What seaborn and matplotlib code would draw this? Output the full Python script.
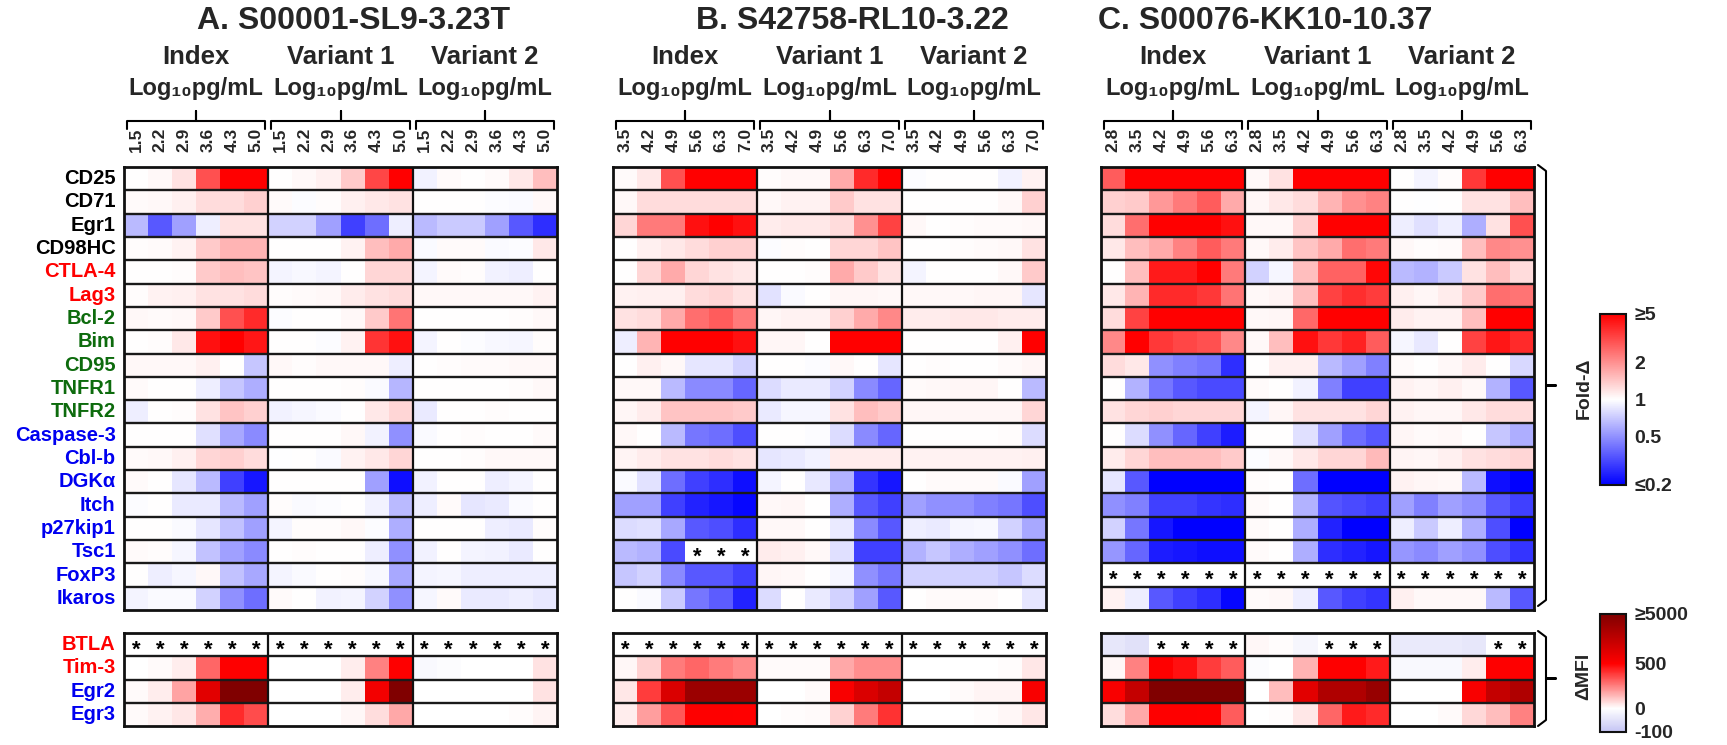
import numpy as np
import pandas as pd
import seaborn as sns
import matplotlib.pyplot as plt
from matplotlib.colors import LogNorm, FuncNorm, LinearSegmentedColormap
from matplotlib.lines import Line2D

nan = np.nan

# ---- data -------------------------------------------------------------
genes_fold = ["CD25", "CD71", "Egr1", "CD98HC", "CTLA-4", "Lag3", "Bcl-2", "Bim",
              "CD95", "TNFR1", "TNFR2", "Caspase-3", "Cbl-b", "DGK\u03b1", "Itch",
              "p27kip1", "Tsc1", "FoxP3", "Ikaros"]
genes_mfi = ["BTLA", "Tim-3", "Egr2", "Egr3"]
colors_fold = ["#000000"] * 4 + ["#ff0000"] * 2 + ["#0d6b0d"] * 5 + ["#0000f0"] * 8
colors_mfi = ["#ff0000", "#ff0000", "#0000f0", "#0000f0"]

groups = ["Index", "Variant 1", "Variant 2"]
titles = ["A. S00001-SL9-3.23T", "B. S42758-RL10-3.22", "C. S00076-KK10-10.37"]
conc_A = ["1.5", "2.2", "2.9", "3.6", "4.3", "5.0"]
conc_B = ["3.5", "4.2", "4.9", "5.6", "6.3", "7.0"]
conc_C = ["2.8", "3.5", "4.2", "4.9", "5.6", "6.3"]

# fold change, columns = Index x6 | Variant 1 x6 | Variant 2 x6 (nan = *)
fold_A = [
    [1.0, 1.05, 1.2, 3.0, 5, 5, 1.0, 1.05, 1.1, 1.4, 3.2, 5, 0.92, 1.03, 1.0, 1.03, 1.15, 1.5],
    [1.03, 1.05, 1.1, 1.25, 1.25, 1.35, 1.03, 0.98, 1.02, 1.1, 1.15, 1.2, 1.0, 1.0, 1.0, 0.98, 0.97, 1.05],
    [0.65, 0.35, 0.55, 0.9, 1.2, 1.2, 0.75, 0.75, 0.55, 0.3, 0.4, 0.9, 0.65, 0.72, 0.72, 0.55, 0.35, 0.27],
    [1.02, 1.03, 1.08, 1.4, 1.6, 1.6, 1.0, 1.0, 1.0, 1.08, 1.5, 1.7, 0.97, 1.03, 1.03, 0.97, 0.98, 1.15],
    [1.0, 1.0, 1.02, 1.4, 1.5, 1.45, 0.93, 0.96, 0.93, 1.0, 1.3, 1.3, 0.93, 1.03, 1.02, 0.92, 0.9, 1.0],
    [1.02, 1.08, 1.1, 1.2, 1.2, 1.25, 1.02, 1.03, 1.05, 1.12, 1.2, 1.25, 1.05, 1.05, 1.05, 1.05, 1.05, 1.08],
    [1.05, 1.03, 1.05, 1.4, 3.0, 3.8, 0.98, 1.0, 1.0, 1.05, 1.4, 2.4, 1.0, 1.0, 1.0, 1.0, 1.02, 1.05],
    [1.0, 1.02, 1.15, 4.5, 5, 4.3, 1.0, 1.0, 0.98, 1.08, 3.6, 4.5, 0.93, 1.0, 0.98, 0.96, 0.95, 1.02],
    [1.05, 1.05, 1.05, 1.1, 1.0, 0.7, 1.04, 1.02, 1.05, 1.05, 1.05, 0.9, 1.0, 1.02, 1.03, 1.03, 1.04, 1.05],
    [1.03, 1.0, 1.0, 0.9, 0.7, 0.6, 1.0, 1.0, 1.0, 1.02, 0.97, 0.63, 1.0, 1.0, 1.0, 1.0, 1.02, 1.04],
    [0.9, 1.0, 1.02, 1.2, 1.45, 1.35, 0.92, 0.95, 0.97, 1.0, 1.15, 1.3, 0.88, 1.0, 1.0, 1.02, 1.0, 1.0],
    [1.0, 1.0, 1.0, 0.82, 0.58, 0.48, 1.0, 1.0, 1.0, 1.04, 0.92, 0.5, 0.97, 1.0, 1.02, 1.0, 1.0, 1.03],
    [1.03, 1.05, 1.1, 1.3, 1.35, 1.25, 0.99, 1.0, 0.97, 1.08, 1.15, 1.3, 1.0, 1.0, 1.02, 1.05, 1.05, 1.05],
    [1.03, 1.0, 0.85, 0.65, 0.3, 0.23, 1.0, 1.0, 1.0, 1.0, 0.55, 0.22, 0.92, 1.0, 1.0, 0.9, 0.93, 1.0],
    [0.98, 1.0, 0.88, 0.88, 0.65, 0.55, 1.02, 0.97, 0.98, 1.0, 0.92, 0.65, 0.9, 1.03, 0.85, 0.88, 0.97, 1.0],
    [1.0, 1.0, 0.97, 0.85, 0.68, 0.55, 0.93, 1.02, 1.02, 1.04, 0.98, 0.6, 1.0, 1.0, 1.0, 0.9, 0.88, 1.02],
    [1.03, 1.02, 0.95, 0.68, 0.55, 0.48, 1.0, 1.02, 1.0, 1.0, 0.9, 0.5, 0.92, 1.0, 0.93, 0.92, 0.88, 1.0],
    [1.0, 0.9, 0.95, 1.04, 0.68, 0.58, 0.93, 0.97, 1.0, 1.02, 0.96, 0.58, 0.93, 0.95, 0.9, 0.9, 0.9, 0.9],
    [0.93, 0.97, 0.97, 0.75, 0.5, 0.4, 1.03, 1.0, 0.92, 0.93, 0.75, 0.5, 0.95, 1.03, 0.88, 0.88, 0.9, 0.87],
]
fold_B = [
    [1.03, 1.15, 3.0, 5, 5, 5, 1.02, 1.05, 1.05, 1.7, 3.8, 5, 0.98, 1.0, 1.0, 1.0, 0.92, 1.08],
    [1.05, 1.25, 1.25, 1.25, 1.25, 1.25, 1.05, 1.08, 1.08, 1.4, 1.2, 1.2, 1.0, 1.0, 1.0, 1.0, 1.04, 1.35],
    [1.3, 2.3, 2.3, 4.5, 5, 4.5, 1.12, 1.15, 1.15, 1.25, 2.0, 3.3, 1.04, 1.0, 1.02, 1.03, 1.03, 1.05],
    [1.0, 1.1, 1.15, 1.25, 1.35, 1.35, 0.98, 1.02, 1.0, 1.3, 1.3, 1.45, 1.0, 1.0, 1.02, 1.03, 1.05, 1.2],
    [1.0, 1.3, 1.7, 1.3, 1.2, 1.15, 1.0, 1.0, 1.02, 1.7, 1.4, 1.2, 0.93, 1.0, 1.0, 1.0, 1.04, 1.4],
    [1.08, 1.1, 1.1, 1.25, 1.3, 1.2, 0.83, 0.97, 1.0, 1.06, 1.06, 1.05, 1.05, 1.05, 1.05, 1.06, 1.06, 0.85],
    [1.2, 1.25, 1.7, 2.5, 2.8, 2.3, 1.06, 1.08, 1.08, 1.35, 1.7, 2.1, 1.12, 1.12, 1.15, 1.15, 1.12, 1.12],
    [0.9, 1.6, 5, 5, 5, 4.5, 1.06, 1.06, 1.0, 5, 5, 5, 1.0, 1.0, 1.0, 1.0, 1.1, 5],
    [1.0, 1.1, 1.05, 0.85, 0.85, 0.75, 1.0, 1.0, 0.98, 1.04, 1.0, 0.85, 1.0, 1.02, 1.0, 1.0, 1.03, 1.06],
    [1.04, 1.04, 0.65, 0.48, 0.48, 0.38, 0.8, 0.88, 0.88, 0.75, 0.48, 0.38, 1.03, 1.05, 1.06, 1.06, 1.0, 0.65],
    [1.06, 1.12, 1.45, 1.45, 1.45, 1.4, 0.88, 0.95, 0.95, 1.2, 1.5, 1.4, 1.06, 1.06, 1.06, 1.06, 1.06, 1.3],
    [1.04, 1.0, 0.65, 0.42, 0.4, 0.33, 1.0, 1.0, 0.98, 0.8, 0.48, 0.38, 1.0, 1.0, 1.0, 1.0, 1.02, 0.8],
    [1.07, 1.12, 1.2, 1.2, 1.25, 1.2, 0.85, 0.88, 0.92, 1.12, 1.12, 1.12, 1.08, 1.08, 1.08, 1.08, 1.08, 1.1],
    [0.97, 0.83, 0.4, 0.3, 0.27, 0.22, 0.93, 1.0, 0.87, 0.62, 0.28, 0.23, 1.0, 1.03, 1.03, 1.03, 0.97, 0.55],
    [0.55, 0.55, 0.3, 0.25, 0.23, 0.21, 1.05, 1.06, 1.0, 0.6, 0.35, 0.3, 0.55, 0.5, 0.5, 0.45, 0.42, 0.33],
    [0.8, 0.82, 0.58, 0.35, 0.33, 0.27, 1.04, 1.04, 1.0, 0.88, 0.48, 0.35, 0.9, 0.88, 0.95, 0.96, 0.75, 0.58],
    [0.65, 0.62, 0.32, nan, nan, nan, 1.12, 1.1, 1.05, 0.82, 0.3, 0.3, 0.62, 0.7, 0.6, 0.55, 0.5, 0.4],
    [0.7, 0.75, 0.48, 0.35, 0.35, 0.3, 1.06, 1.05, 1.0, 0.95, 0.5, 0.42, 0.75, 0.75, 0.75, 0.75, 0.7, 0.8],
    [1.0, 0.97, 0.72, 0.42, 0.36, 0.25, 0.8, 1.0, 0.88, 0.75, 0.55, 0.35, 1.0, 1.03, 1.03, 1.03, 1.0, 0.85],
]
fold_C = [
    [2.8, 5, 5, 5, 5, 5, 1.05, 1.2, 5, 5, 5, 5, 1.0, 0.93, 1.02, 3.5, 5, 5],
    [1.35, 1.4, 1.9, 2.3, 2.8, 1.7, 1.06, 1.15, 1.25, 1.6, 2.0, 2.2, 1.0, 0.99, 1.0, 1.2, 1.2, 1.5],
    [1.25, 2.5, 5, 5, 5, 4.5, 1.04, 1.04, 1.35, 5, 5, 5, 0.9, 0.82, 0.9, 0.6, 1.2, 3.0],
    [1.15, 1.5, 1.7, 2.2, 2.8, 2.3, 1.04, 1.12, 1.45, 1.7, 2.5, 2.3, 1.04, 1.02, 1.03, 1.5, 2.1, 2.0],
    [1.0, 1.5, 4.2, 4.2, 5, 2.3, 0.75, 0.95, 1.5, 2.7, 2.7, 4.8, 0.65, 0.62, 0.72, 1.2, 1.5, 1.25],
    [1.15, 1.6, 3.8, 3.8, 3.5, 2.4, 1.04, 1.07, 1.5, 3.3, 3.7, 3.4, 1.1, 1.06, 1.12, 1.4, 2.5, 2.4],
    [1.25, 3.3, 5, 5, 5, 5, 1.04, 1.06, 2.6, 5, 5, 5, 1.12, 1.08, 1.08, 1.5, 5, 5],
    [2.1, 5, 3.5, 3.2, 3.0, 2.1, 1.05, 1.5, 4.5, 3.5, 4.0, 2.8, 0.95, 0.87, 1.0, 3.3, 4.3, 3.8],
    [1.25, 1.15, 0.5, 0.45, 0.42, 0.27, 1.0, 1.1, 1.1, 0.65, 0.55, 0.45, 1.03, 1.0, 1.04, 1.12, 1.0, 0.78],
    [1.0, 0.62, 0.42, 0.35, 0.32, 0.32, 1.03, 1.0, 0.92, 0.45, 0.3, 0.3, 1.08, 1.06, 1.1, 1.04, 0.62, 0.35],
    [1.2, 1.3, 1.35, 1.3, 1.3, 1.3, 0.93, 1.06, 1.2, 1.2, 1.2, 1.3, 1.08, 1.06, 1.06, 1.15, 1.25, 1.25],
    [1.0, 0.8, 0.5, 0.38, 0.3, 0.24, 1.0, 1.0, 0.82, 0.55, 0.4, 0.35, 1.06, 1.03, 1.05, 1.0, 0.7, 0.6],
    [1.12, 1.3, 1.5, 1.5, 1.5, 1.4, 0.98, 1.04, 1.15, 1.3, 1.3, 1.55, 1.07, 1.06, 1.1, 1.2, 1.25, 1.3],
    [0.85, 0.35, 0.2, 0.2, 0.2, 0.2, 1.02, 1.0, 0.4, 0.2, 0.2, 0.2, 1.08, 1.06, 1.04, 0.65, 0.22, 0.2],
    [0.5, 0.45, 0.3, 0.3, 0.28, 0.27, 1.03, 1.0, 0.62, 0.34, 0.32, 0.3, 0.55, 0.45, 0.55, 0.5, 0.35, 0.3],
    [0.75, 0.42, 0.23, 0.2, 0.2, 0.2, 1.03, 1.0, 0.6, 0.25, 0.2, 0.2, 0.9, 0.72, 0.9, 0.6, 0.33, 0.2],
    [0.52, 0.38, 0.24, 0.23, 0.22, 0.22, 1.03, 1.0, 0.6, 0.27, 0.25, 0.23, 0.52, 0.48, 0.55, 0.5, 0.33, 0.28],
    [nan] * 18,
    [1.08, 0.9, 0.35, 0.3, 0.27, 0.21, 1.03, 1.04, 0.9, 0.35, 0.3, 0.28, 1.1, 1.04, 1.05, 1.04, 0.65, 0.35],
]

# delta MFI
mfi_A = [
    [nan] * 18,
    [0, 10, 40, 300, 550, 550, 0, 0, 0, 40, 250, 550, -10, -5, 0, 0, 0, 60],
    [10, 40, 180, 1500, 5000, 5000, 0, 0, 0, 40, 900, 5000, 0, 0, 0, 0, 0, 60],
    [10, 25, 50, 160, 420, 350, 0, 0, 0, 15, 70, 170, 0, 0, 0, 0, 5, 20],
]
mfi_B = [
    [nan] * 18,
    [15, 90, 260, 300, 260, 230, 10, 10, 10, 170, 220, 220, 0, 0, 0, 0, 5, 50],
    [50, 380, 1800, 4000, 4000, 4000, 0, 0, 10, 700, 1800, 2600, 0, 0, 10, 20, 20, 700],
    [40, 190, 330, 550, 550, 500, 0, 5, 10, 90, 260, 400, 0, 0, 0, 5, 15, 50],
]
mfi_C = [
    [-40, -50, nan, nan, nan, nan, 15, 5, -15, nan, nan, nan, -35, -35, -35, -40, nan, nan],
    [15, 250, 550, 470, 380, 320, -5, 0, 150, 550, 550, 450, -10, -10, -10, 40, 550, 550],
    [700, 2600, 5000, 5000, 5000, 5000, 0, 130, 1500, 3300, 3300, 4200, 0, 0, 0, 700, 2600, 3300],
    [70, 170, 550, 550, 500, 320, 0, 5, 50, 300, 450, 420, 0, 0, 10, 80, 130, 250],
]

panels = [(fold_A, mfi_A, conc_A), (fold_B, mfi_B, conc_B), (fold_C, mfi_C, conc_C)]

# ---- style -------------------------------------------------------------
sns.set_theme(style="white")
plt.rcParams["font.family"] = ["Liberation Sans", "DejaVu Sans"]

W, H = 1727, 745


def fx(x):
    return x / W


def fy(y):
    return 1 - y / H


fold_cmap = LinearSegmentedColormap.from_list("fold", ["#0000ff", "#ffffff", "#ff0000"])
fold_norm = LogNorm(vmin=0.2, vmax=5)

mfi_vals = [-100, 0, 500, 5000]
mfi_pos = [0, 0.2, 0.58, 1]
mfi_cmap = LinearSegmentedColormap.from_list(
    "mfi", [(0, "#c4c4f4"), (0.2, "#ffffff"), (0.58, "#ff0000"), (1, "#800000")])
mfi_norm = FuncNorm((lambda v: np.interp(v, mfi_vals, mfi_pos),
                     lambda p: np.interp(p, mfi_pos, mfi_vals)), vmin=-100, vmax=5000)

fig = plt.figure(figsize=(W / 100, H / 100), dpi=100)

xlefts = [124, 613, 1101]
title_cx = [354, 852, 1265]
pw = 433
top_y0, top_y1 = 167, 610
bot_y0, bot_y1 = 633, 726


def style_grid(ax, nrows):
    for i in range(1, nrows):
        ax.axhline(i, color="#1a1a1a", lw=1.7)
    for j in (6, 12):
        ax.axvline(j, color="#111111", lw=1.6)
    for s in ax.spines.values():
        s.set_visible(True)
        s.set_color("#111111")
        s.set_linewidth(2)


def stars(ax, data):
    arr = np.array(data, dtype=float)
    for i, j in zip(*np.where(np.isnan(arr))):
        ax.text(j + 0.5, i + 0.72, "*", ha="center", va="center",
                fontsize=16, fontweight="bold", color="black")


for p, (fold, mfi, conc) in enumerate(panels):
    x0 = xlefts[p]
    ax = fig.add_axes([fx(x0), fy(top_y1), fx(pw), (top_y1 - top_y0) / H])
    df = pd.DataFrame(fold, index=genes_fold)
    sns.heatmap(df, ax=ax, cmap=fold_cmap, norm=fold_norm, cbar=False,
                xticklabels=conc * 3, yticklabels=genes_fold)
    ax.set_facecolor("white")
    style_grid(ax, len(genes_fold))
    stars(ax, fold)
    ax.xaxis.tick_top()
    ax.tick_params(axis="x", length=0, pad=11, labelsize=12.5, rotation=90)
    for lbl in ax.get_xticklabels():
        lbl.set_fontweight("bold")

    axb = fig.add_axes([fx(x0), fy(bot_y1), fx(pw), (bot_y1 - bot_y0) / H])
    dfb = pd.DataFrame(mfi, index=genes_mfi)
    sns.heatmap(dfb, ax=axb, cmap=mfi_cmap, norm=mfi_norm, cbar=False,
                xticklabels=False, yticklabels=genes_mfi)
    axb.set_facecolor("white")
    style_grid(axb, len(genes_mfi))
    stars(axb, mfi)

    for a, cols in ((ax, colors_fold), (axb, colors_mfi)):
        if p == 0:
            a.tick_params(axis="y", length=0, pad=6, labelsize=14.5, rotation=0)
            for lbl, c in zip(a.get_yticklabels(), cols):
                lbl.set_color(c)
                lbl.set_fontweight("bold")
        else:
            a.set_yticks([])

    # titles and group headers
    fig.text(fx(title_cx[p]), fy(21), titles[p], ha="center", va="center",
             fontsize=23, fontweight="bold")
    bw = pw / 3
    for g in range(3):
        bx0 = x0 + g * bw
        cx = bx0 + bw / 2
        fig.text(fx(cx), fy(57), groups[g], ha="center", va="center",
                 fontsize=18.5, fontweight="bold")
        fig.text(fx(cx), fy(88), "Log\u2081\u2080pg/mL", ha="center", va="center",
                 fontsize=17, fontweight="bold")
        xs = [bx0 + 3, bx0 + 3, cx, cx, cx, bx0 + bw - 3, bx0 + bw - 3]
        ys = [129, 121, 121, 111, 121, 121, 129]
        fig.add_artist(Line2D([fx(v) for v in xs], [fy(v) for v in ys],
                              color="black", lw=1.5))

# right brackets


def bracket(y0, y1, x=1546):
    ym = (y0 + y1) / 2
    xs = [x - 8, x, x, x + 10, x, x, x - 8]
    ys = [y0, y0 + 6, ym, ym, ym, y1 - 6, y1]
    fig.add_artist(Line2D([fx(v) for v in xs], [fy(v) for v in ys],
                          color="black", lw=1.5))


bracket(top_y0 - 2, top_y1 - 4)
bracket(bot_y0 - 2, bot_y1)
fig.text(fx(1584), fy(388), "Fold-\u0394", rotation=90, ha="center", va="center",
         fontsize=14, fontweight="bold")
fig.text(fx(1584), fy(676), "\u0394MFI", rotation=90, ha="center", va="center",
         fontsize=14, fontweight="bold")

# colorbars
cax1 = fig.add_axes([fx(1600), fy(485), fx(26), (485 - 314) / H])
cb1 = fig.colorbar(fig.axes[0].collections[0], cax=cax1)
cb1.set_ticks([0.2, 0.5, 1, 2, 5])
cb1.set_ticklabels(["\u22640.2", "0.5", "1", "2", "\u22655"])
cax1.minorticks_off()

cax2 = fig.add_axes([fx(1600), fy(732), fx(26), (732 - 614) / H])
cb2 = fig.colorbar(fig.axes[1].collections[0], cax=cax2)
cb2.set_ticks([-100, 0, 500, 5000])
cb2.set_ticklabels(["-100", "0", "500", "\u22655000"])
cax2.minorticks_off()

for cb in (cb1, cb2):
    cb.outline.set_linewidth(1.5)
    cb.outline.set_edgecolor("#111111")
    cb.ax.tick_params(length=0, pad=6, labelsize=14)
    for lbl in cb.ax.get_yticklabels():
        lbl.set_fontweight("bold")

fig.savefig("out.png", dpi=100)
